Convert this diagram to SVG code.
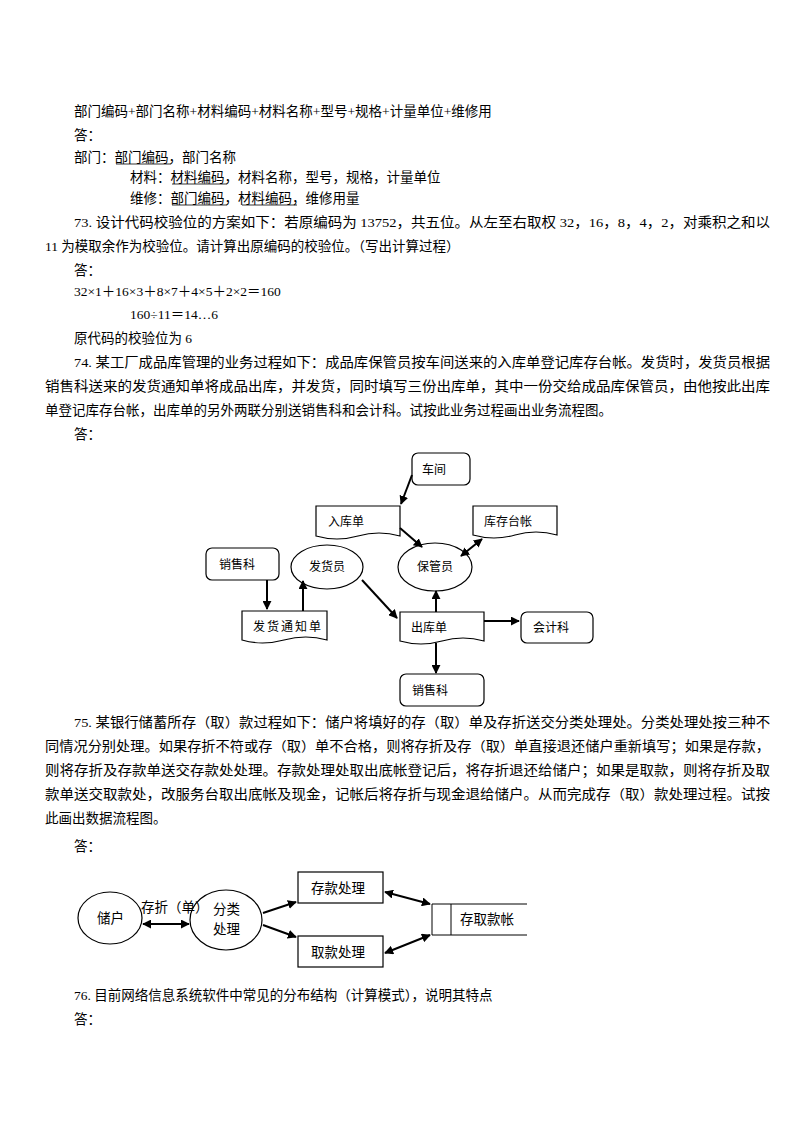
<svg xmlns="http://www.w3.org/2000/svg" width="800" height="1132" viewBox="0 0 800 1132">
<style>
text{font-family:"Liberation Serif","Noto Sans CJK SC",serif;font-size:13.5px;fill:#000}
.s{font-family:"Liberation Sans","Noto Sans CJK SC",sans-serif;font-size:12px}
.b{fill:#fff;stroke:#000;stroke-width:1.2}
.l{stroke:#000;stroke-width:2;fill:none}
.u{stroke:#000;stroke-width:0.8}
</style>
<defs>
<marker id="a" viewBox="0 0 10 10" refX="9" refY="5" markerWidth="4.5" markerHeight="4.5" orient="auto-start-reverse"><path d="M0,0L10,5L0,10z"/></marker>
</defs>
<rect width="800" height="1132" fill="#fff"/>
<text x="74" y="116">部门编码+部门名称+材料编码+材料名称+型号+规格+计量单位+维修用</text>
<text x="74" y="140">答：</text>
<text x="74" y="162">部门：部门编码，部门名称</text>
<line class="u" x1="116" y1="164" x2="171" y2="164"/>
<text x="130" y="182">材料：材料编码，材料名称，型号，规格，计量单位</text>
<line class="u" x1="172" y1="184" x2="227" y2="184"/>
<text x="130" y="203">维修：部门编码，材料编码，维修用量</text>
<line class="u" x1="172" y1="205" x2="227" y2="205"/>
<line class="u" x1="242" y1="205" x2="297" y2="205"/>
<text x="74" y="227" textLength="696" lengthAdjust="spacingAndGlyphs">73. 设计代码校验位的方案如下：若原编码为 13752，共五位。从左至右取权 32，16，8，4，2，对乘积之和以</text>
<text x="45" y="251">11 为模取余作为校验位。请计算出原编码的校验位。（写出计算过程）</text>
<text x="74" y="275">答：</text>
<text x="74" y="296">32×1＋16×3＋8×7＋4×5＋2×2＝160</text>
<text x="130" y="319">160÷11＝14…6</text>
<text x="74" y="343">原代码的校验位为 6</text>
<text x="74" y="367" textLength="696" lengthAdjust="spacingAndGlyphs">74. 某工厂成品库管理的业务过程如下：成品库保管员按车间送来的入库单登记库存台帐。发货时，发货员根据</text>
<text x="45" y="391" textLength="725" lengthAdjust="spacingAndGlyphs">销售科送来的发货通知单将成品出库，并发货，同时填写三份出库单，其中一份交给成品库保管员，由他按此出库</text>
<text x="45" y="415">单登记库存台帐，出库单的另外两联分别送销售科和会计科。试按此业务过程画出业务流程图。</text>
<text x="74" y="439">答：</text>

<g id="d1-nodes">
<g id="chejian"><rect class="b" x="412" y="453" width="58" height="32" rx="6"/><text class="s" x="422" y="474">车间</text></g>
<g id="rukudan"><path class="b" d="M316,506H400V536Q379,530 358,536T316,536Z"/><text class="s" x="328" y="526">入库单</text></g>
<g id="kucuntaizhang"><path class="b" d="M473,506H557V535Q536,529 515,535T473,535Z"/><text class="s" x="484" y="526">库存台帐</text></g>
<g id="xiaoshouke1"><rect class="b" x="206" y="548" width="73" height="32" rx="6"/><text class="s" x="219" y="569">销售科</text></g>
<g id="fahuoyuan"><ellipse class="b" cx="327" cy="567" rx="36" ry="22"/><text class="s" x="309" y="571">发货员</text></g>
<g id="baoguanyuan"><ellipse class="b" cx="435" cy="567" rx="37" ry="24"/><text class="s" x="417" y="571">保管员</text></g>
<g id="fahuotongzhidan"><path class="b" d="M242,611H327V640Q306,634 284,640T242,640Z"/><text class="s" x="253" y="631" letter-spacing="2">发货通知单</text></g>
<g id="chukudan"><path class="b" d="M400,612H484V641Q463,635 442,641T400,641Z"/><text class="s" x="411" y="632">出库单</text></g>
<g id="kuaijike"><rect class="b" x="521" y="612" width="72" height="31" rx="6"/><text class="s" x="533" y="632">会计科</text></g>
<g id="xiaoshouke2"><rect class="b" x="400" y="674" width="84" height="32" rx="6"/><text class="s" x="412" y="695">销售科</text></g>
</g>
<g id="d1-connectors">
<line class="l" x1="412" y1="475" x2="401" y2="504" marker-end="url(#a)"/>
<line class="l" x1="400" y1="528" x2="422" y2="547" marker-end="url(#a)"/>
<line class="l" x1="482" y1="539" x2="461" y2="556" marker-start="url(#a)" marker-end="url(#a)"/>
<line class="l" x1="267" y1="580" x2="267" y2="609" marker-end="url(#a)"/>
<line class="l" x1="303" y1="611" x2="303" y2="581" marker-end="url(#a)"/>
<line class="l" x1="362" y1="580" x2="397" y2="618" marker-end="url(#a)"/>
<line class="l" x1="436" y1="612" x2="436" y2="591" marker-end="url(#a)"/>
<line class="l" x1="484" y1="621" x2="519" y2="621" marker-end="url(#a)"/>
<line class="l" x1="436" y1="643" x2="436" y2="673" marker-end="url(#a)"/>
</g>

<text x="74" y="727" textLength="696" lengthAdjust="spacingAndGlyphs">75. 某银行储蓄所存（取）款过程如下：储户将填好的存（取）单及存折送交分类处理处。分类处理处按三种不</text>
<text x="45" y="751" textLength="725" lengthAdjust="spacingAndGlyphs">同情况分别处理。如果存折不符或存（取）单不合格，则将存折及存（取）单直接退还储户重新填写；如果是存款，</text>
<text x="45" y="775" textLength="725" lengthAdjust="spacingAndGlyphs">则将存折及存款单送交存款处处理。存款处理处取出底帐登记后，将存折退还给储户；如果是取款，则将存折及取</text>
<text x="45" y="799" textLength="725" lengthAdjust="spacingAndGlyphs">款单送交取款处，改服务台取出底帐及现金，记帐后将存折与现金退给储户。从而完成存（取）款处理过程。试按</text>
<text x="45" y="823">此画出数据流程图。</text>
<text x="74" y="851">答：</text>

<g id="d2-nodes">
<g id="chuhu"><ellipse class="b" cx="110" cy="918" rx="32" ry="26"/><text x="97" y="923">储户</text></g>
<g id="fenlei"><ellipse class="b" cx="226" cy="920" rx="36" ry="30"/><text x="213" y="914">分类</text><text x="213" y="934">处理</text></g>
<g id="cunkuan"><rect class="b" x="298" y="872" width="85" height="31"/><text x="311" y="893">存款处理</text></g>
<g id="qukuan"><rect class="b" x="298" y="936" width="85" height="31"/><text x="311" y="957">取款处理</text></g>
<g id="zhang"><path fill="none" stroke="#000" stroke-width="1" d="M527,904H432V935H527M451,904V935"/><text x="460" y="924">存取款帐</text></g>
</g>
<g id="d2-connectors">
<line class="l" x1="143" y1="924" x2="189" y2="924" marker-start="url(#a)" marker-end="url(#a)"/>
<text x="141" y="912">存折（单）</text>
<line class="l" x1="263" y1="913" x2="296" y2="902" marker-end="url(#a)"/>
<line class="l" x1="263" y1="925" x2="296" y2="937" marker-end="url(#a)"/>
<line class="l" x1="385" y1="892" x2="430" y2="904" marker-start="url(#a)" marker-end="url(#a)"/>
<line class="l" x1="385" y1="953" x2="430" y2="935" marker-start="url(#a)" marker-end="url(#a)"/>
</g>

<text x="74" y="1000">76. 目前网络信息系统软件中常见的分布结构（计算模式），说明其特点</text>
<text x="74" y="1024">答：</text>
</svg>
